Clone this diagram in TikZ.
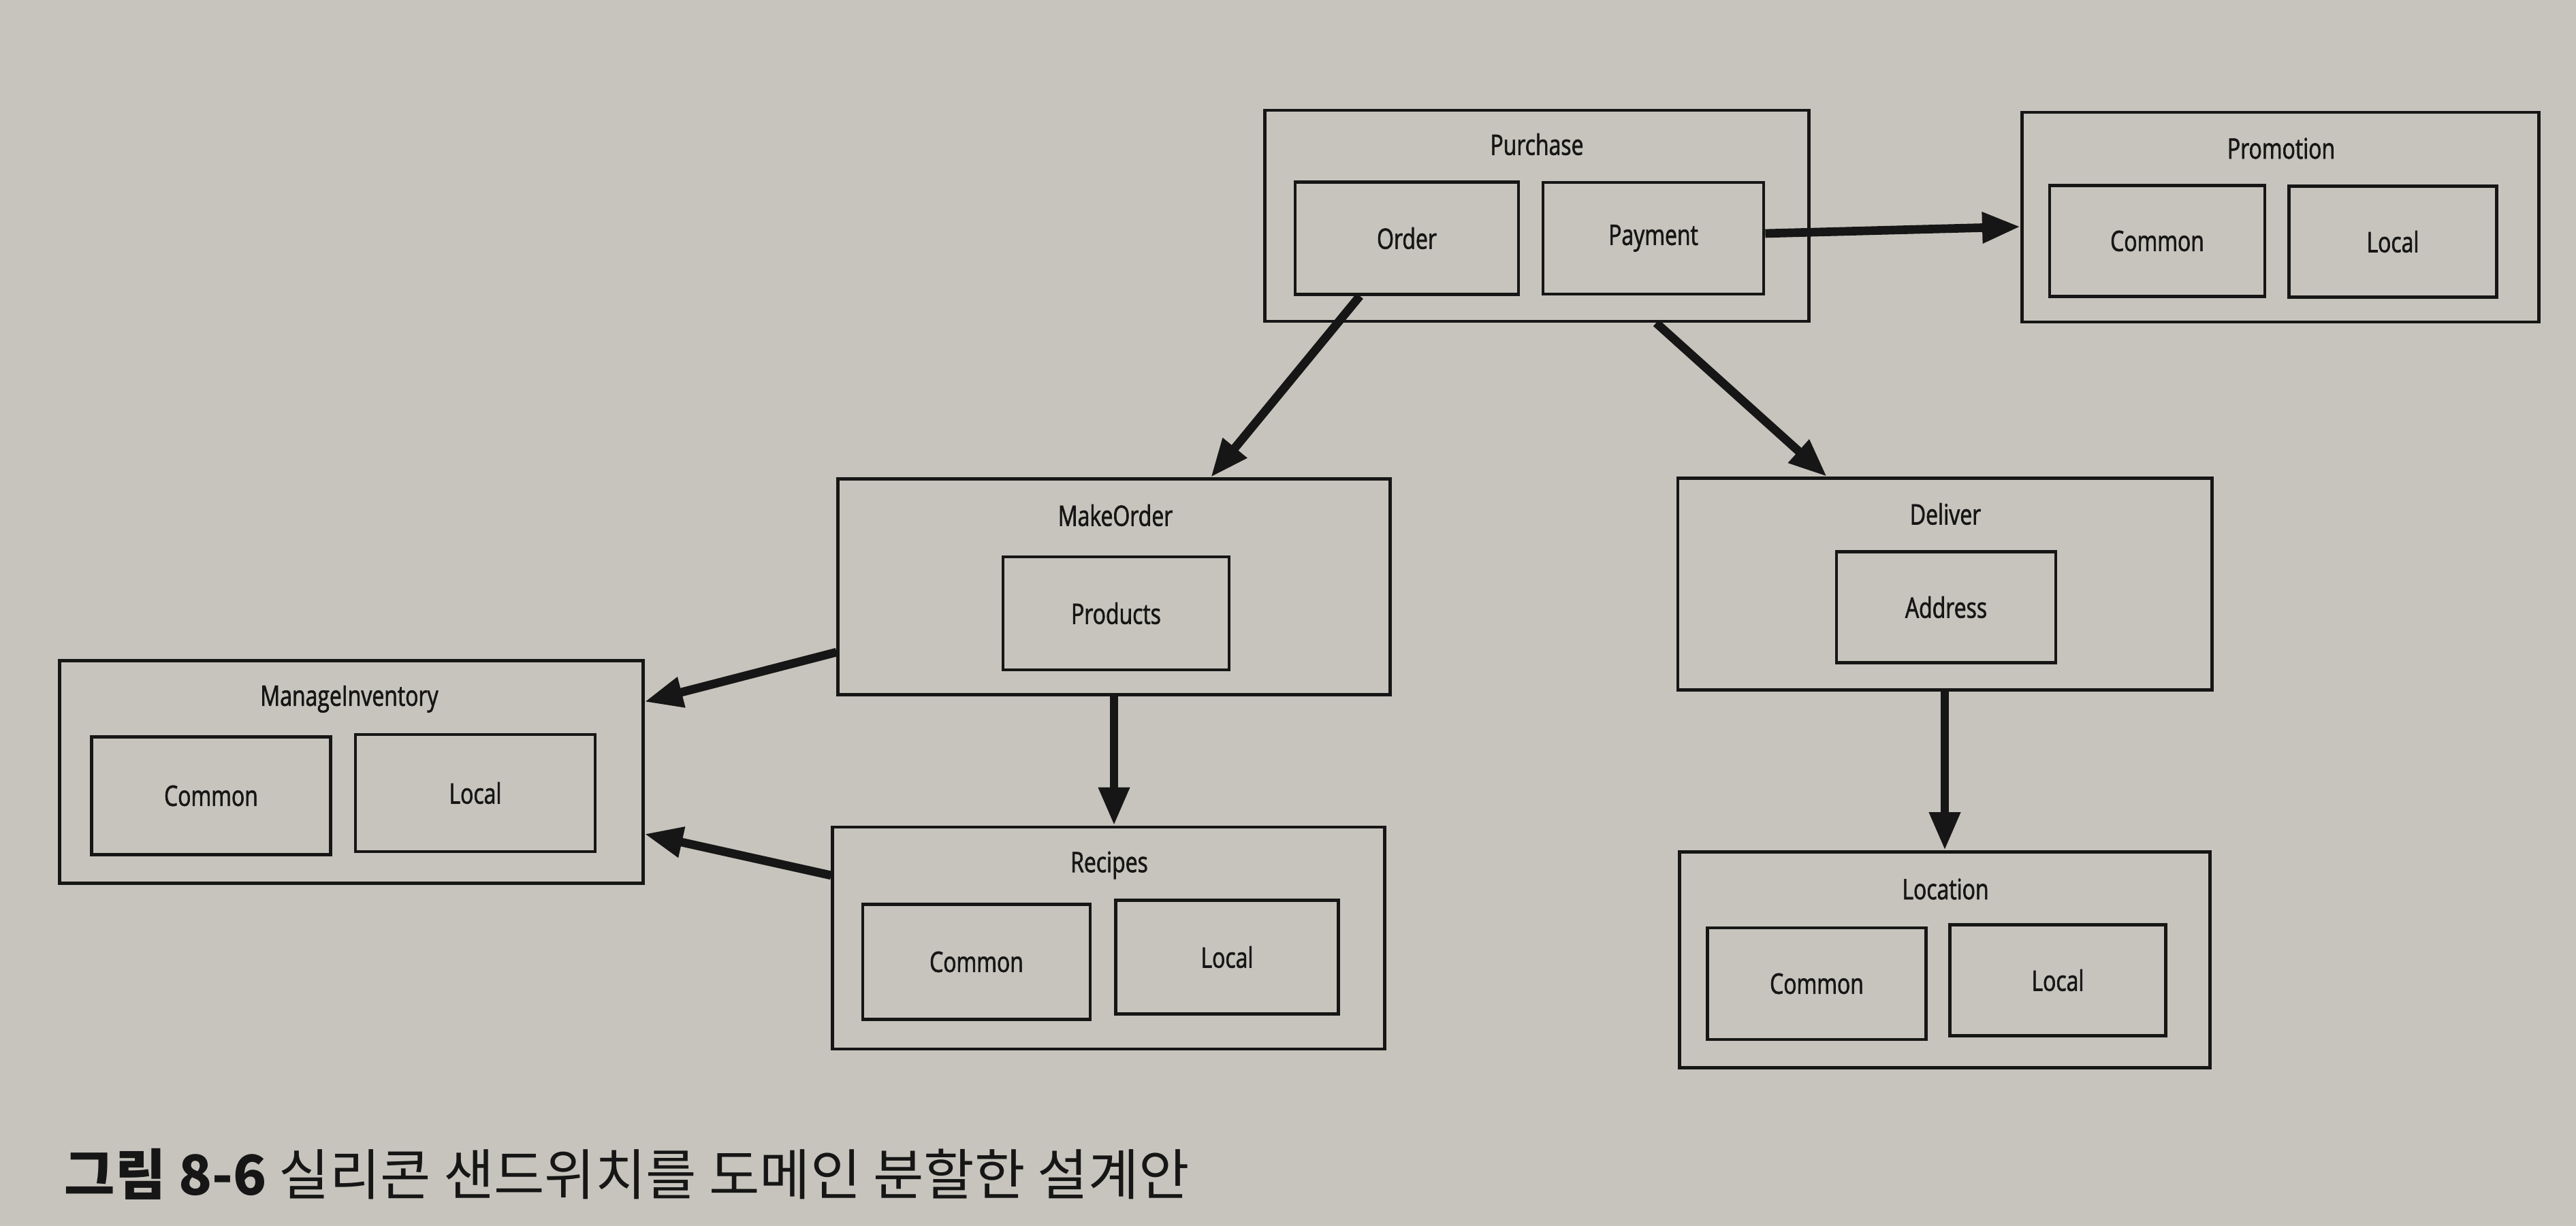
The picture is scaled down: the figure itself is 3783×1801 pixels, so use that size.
\documentclass[tikz,border=0pt]{standalone}
\usepackage{fontspec}
\setmainfont[FakeStretch=0.77, FakeBold=1.6]{Open Sans}
\newfontfamily\cjk{Noto Sans CJK KR}
\usetikzlibrary{arrows.meta,calc}
\definecolor{paper}{RGB}{198,196,188}
\definecolor{ink}{RGB}{22,22,22}
\tikzset{
  outerbox/.style={draw=ink, line width=1.3pt, fill=paper, inner sep=0pt},
  innerbox/.style={draw=ink, line width=1.3pt, fill=paper, inner sep=0pt, font=\fontsize{11.8}{13}\selectfont, text=ink},
  boxlabel/.style={font=\fontsize{11.8}{13}\selectfont, text=ink, inner sep=0pt},
  conn/.style={draw=ink, line width=3.6pt, -{Triangle[length=0.56cm, width=0.43cm]}}
}
\begin{document}
\begin{tikzpicture}[x=0.01cm, y=-0.01cm]
\fill[paper] (0,0) rectangle (3783,1801);
\useasboundingbox (0,0) rectangle (3783,1801);

% Purchase
\node[outerbox, minimum width=7.98cm, minimum height=3.10cm] (purchase) at (2257,317) {};
\node[boxlabel] (purchaselbl) at (2257,212) {Purchase};
\node[innerbox, minimum width=3.28cm, minimum height=1.65cm] (order) at (2066,350) {Order};
\node[innerbox, minimum width=3.24cm, minimum height=1.64cm] (payment) at (2428,350) {Payment};

% Promotion
\node[outerbox, minimum width=7.59cm, minimum height=3.08cm] (promotion) at (3349,319) {};
\node[boxlabel] (promotionlbl) at (3350,218) {Promotion};
\node[innerbox, minimum width=3.16cm, minimum height=1.63cm] (promocommon) at (3168,354) {Common};
\node[innerbox, minimum width=3.05cm, minimum height=1.63cm] (promolocal) at (3514,355) {Local};

% MakeOrder
\node[outerbox, minimum width=8.10cm, minimum height=3.17cm] (makeorder) at (1636,862) {};
\node[boxlabel] (makeorderlbl) at (1638,757) {MakeOrder};
\node[innerbox, minimum width=3.32cm, minimum height=1.66cm] (products) at (1639,901) {Products};

% ManageInventory
\node[outerbox, minimum width=8.56cm, minimum height=3.27cm] (manageinv) at (516,1134) {};
\node[boxlabel] (manageinvlbl) at (513,1027) {ManageInventory};
\node[innerbox, minimum width=3.51cm, minimum height=1.73cm] (micommon) at (310,1169) {Common};
\node[innerbox, minimum width=3.52cm, minimum height=1.72cm] (milocal) at (698,1165) {Local};

% Recipes
\node[outerbox, minimum width=8.10cm, minimum height=3.26cm] (recipes) at (1628,1378) {};
\node[boxlabel] (recipeslbl) at (1629,1271) {Recipes};
\node[innerbox, minimum width=3.34cm, minimum height=1.69cm] (reccommon) at (1434,1413) {Common};
\node[innerbox, minimum width=3.27cm, minimum height=1.67cm] (reclocal) at (1802,1406) {Local};

% Deliver
\node[outerbox, minimum width=7.84cm, minimum height=3.11cm] (deliver) at (2856,858) {};
\node[boxlabel] (deliverlbl) at (2857,755) {Deliver};
\node[innerbox, minimum width=3.22cm, minimum height=1.63cm] (address) at (2858,892) {Address};

% Location
\node[outerbox, minimum width=7.79cm, minimum height=3.17cm] (location) at (2856,1410) {};
\node[boxlabel] (locationlbl) at (2857,1306) {Location};
\node[innerbox, minimum width=3.21cm, minimum height=1.64cm] (loccommon) at (2668,1445) {Common};
\node[innerbox, minimum width=3.17cm, minimum height=1.63cm] (loclocal) at (3022,1440) {Local};

% Connectors
\draw[conn] ([xshift=-0.69cm]order.south) -- ([xshift=1.42cm]makeorder.north);
\draw[conn] ([xshift=1.75cm]purchase.south) -- ([xshift=-1.73cm]deliver.north);
\draw[conn] ([yshift=0.07cm]payment.east) -- ([yshift=-0.14cm]promotion.west);
\draw[conn] ([yshift=-0.96cm]makeorder.west) -- ([yshift=1.03cm]manageinv.east);
\draw[conn] ([yshift=0.92cm]recipes.west) -- ([yshift=-0.91cm]manageinv.east);
\draw[conn] (makeorder.south) -- (makeorder.south |- recipes.north);
\draw[conn] (deliver.south) -- (deliver.south |- location.north);

% Caption
\node[anchor=base west, inner sep=0pt, text=ink, font=\cjk\fontsize{23}{27}\selectfont] (caption) at (94,1755) {\textbf{그림 8-6} 실리콘 샌드위치를 도메인 분할한 설계안};
\end{tikzpicture}
\end{document}
